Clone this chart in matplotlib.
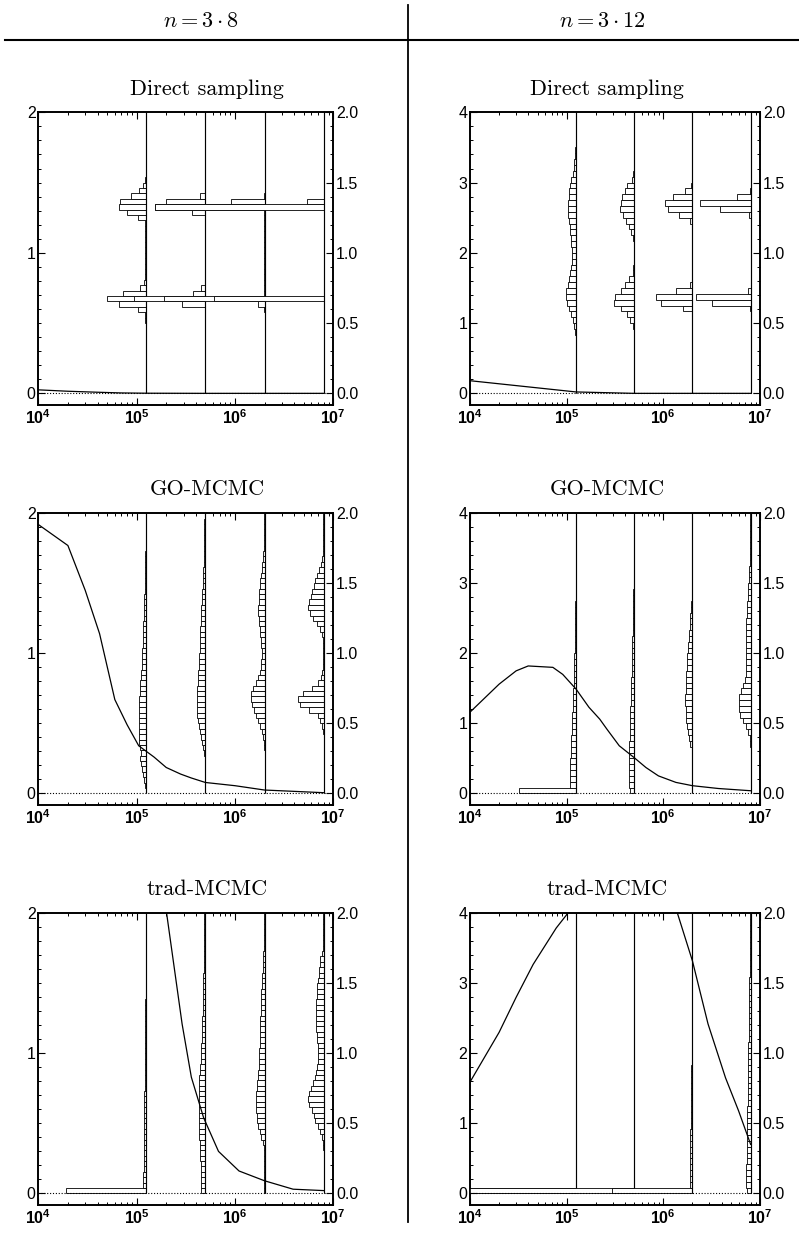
import matplotlib
matplotlib.use('Agg')
import matplotlib.pyplot as plt
import numpy as np
from matplotlib.lines import Line2D
from matplotlib.ticker import MultipleLocator, LogLocator, NullFormatter

plt.rcParams['font.family'] = ['Liberation Sans', 'DejaVu Sans']
plt.rcParams['mathtext.fontset'] = 'custom'
plt.rcParams['mathtext.rm'] = 'Liberation Sans'
plt.rcParams['mathtext.bf'] = 'Liberation Sans:bold'
plt.rcParams['mathtext.it'] = 'Liberation Sans:italic'

# number of samples at which each histogram is drawn (right edge of the histogram)
anchors = [1.25e5, 5e5, 2e6, 8e6]

# histogram bar depths (decades, measured leftwards from the anchor), one entry per bin over 0..2
# n = 3*8 : 52 bins, n = 3*12 : 48 bins

# ---- Direct sampling, n = 3*8
ds8_a = [0, 0, 0, 0, 0, 0, 0, 0, 0, 0,
         0, 0, 0.005, 0.01, 0.015, 0.086, 0.28, 0.40, 0.24, 0.066,
         0.02, 0.01, 0.01, 0.01, 0.01, 0.01, 0.01, 0.01, 0.01, 0.01,
         0.01, 0.015, 0.08, 0.19, 0.28, 0.27, 0.15, 0.076, 0.03, 0.015,
         0.005, 0, 0, 0, 0, 0, 0, 0, 0, 0,
         0, 0]
ds8_b = [0, 0, 0, 0, 0, 0, 0, 0, 0, 0,
         0, 0, 0, 0, 0.003, 0.007, 0.24, 0.73, 0.13, 0.04,
         0.005, 0.003, 0.003, 0.003, 0.003, 0.003, 0.003, 0.003, 0.003, 0.003,
         0.003, 0.003, 0.007, 0.135, 0.51, 0.40, 0.05, 0.005, 0, 0,
         0, 0, 0, 0, 0, 0, 0, 0, 0, 0,
         0, 0]
ds8_c = [0, 0, 0, 0, 0, 0, 0, 0, 0, 0,
         0, 0, 0, 0, 0, 0.005, 0.07, 1.02, 0.01, 0.003,
         0.003, 0.003, 0.003, 0.003, 0.003, 0.003, 0.003, 0.003, 0.003, 0.003,
         0.003, 0.003, 0.003, 0.01, 1.0, 0.34, 0.005, 0, 0, 0,
         0, 0, 0, 0, 0, 0, 0, 0, 0, 0,
         0, 0]
ds8_d = [0, 0, 0, 0, 0, 0, 0, 0, 0, 0,
         0, 0, 0, 0, 0, 0, 0, 1.12, 0, 0,
         0, 0, 0, 0, 0, 0, 0, 0, 0, 0,
         0, 0, 0, 0, 1.72, 0.17, 0, 0, 0, 0,
         0, 0, 0, 0, 0, 0, 0, 0, 0, 0,
         0, 0]
ds8_curve_x = [1e4, 2e4, 4e4, 7e4, 1.25e5, 5e5, 2e6, 8e6]
ds8_curve_y = [0.025, 0.015, 0.008, 0.003, 0.001, 0.0, 0.0, 0.0]

# ---- Direct sampling, n = 3*12
ds12_a = [0, 0, 0, 0, 0, 0, 0, 0, 0, 0.003,
          0.008, 0.02, 0.035, 0.055, 0.075, 0.095, 0.105, 0.1, 0.085, 0.07,
          0.058, 0.05, 0.045, 0.044, 0.045, 0.048, 0.053, 0.06, 0.067, 0.073,
          0.078, 0.08, 0.08, 0.077, 0.07, 0.06, 0.048, 0.036, 0.026, 0.018,
          0.012, 0.008, 0.005, 0.003, 0, 0, 0, 0]
ds12_b = [0, 0, 0, 0, 0, 0, 0, 0, 0, 0,
          0.006, 0.017, 0.045, 0.08, 0.138, 0.207, 0.197, 0.138, 0.094, 0.05,
          0.017, 0.008, 0.004, 0.004, 0.005, 0.007, 0.017, 0.034, 0.05, 0.086,
          0.12, 0.144, 0.137, 0.127, 0.1, 0.07, 0.024, 0.01, 0.005, 0,
          0, 0, 0, 0, 0, 0, 0, 0]
ds12_c = [0, 0, 0, 0, 0, 0, 0, 0, 0, 0,
          0, 0, 0, 0.005, 0.1, 0.33, 0.375, 0.175, 0.02, 0.003,
          0.002, 0.002, 0.002, 0.002, 0.002, 0.002, 0.002, 0.002, 0.005, 0.03,
          0.134, 0.254, 0.285, 0.2, 0.082, 0.01, 0.003, 0, 0, 0,
          0, 0, 0, 0, 0, 0, 0, 0]
ds12_d = [0, 0, 0, 0, 0, 0, 0, 0, 0, 0,
          0, 0, 0, 0, 0.01, 0.4, 0.57, 0.03, 0, 0,
          0, 0, 0, 0, 0, 0, 0, 0, 0, 0,
          0.02, 0.32, 0.52, 0.14, 0.01, 0, 0, 0, 0, 0,
          0, 0, 0, 0, 0, 0, 0, 0]
ds12_curve_x = [1e4, 1.25e5, 5e5, 2e6, 8e6]
ds12_curve_y = [0.18, 0.02, 0.0, 0.0, 0.0]

# ---- GO-MCMC, n = 3*8
go8_a = [0.003, 0.01, 0.02, 0.03, 0.04, 0.05, 0.065, 0.055, 0.065, 0.07,
         0.072, 0.075, 0.075, 0.076, 0.075, 0.073, 0.072, 0.07, 0.066, 0.062,
         0.058, 0.054, 0.05, 0.046, 0.043, 0.04, 0.038, 0.036, 0.034, 0.032,
         0.03, 0.028, 0.026, 0.024, 0.022, 0.02, 0.018, 0.016, 0.014, 0.012,
         0.011, 0.01, 0.009, 0.008, 0.007, 0.006, 0.005, 0.004, 0.003, 0.003,
         0.002, 0.002]
go8_b = [0, 0, 0, 0, 0, 0.003, 0.008, 0.017, 0.025, 0.035,
         0.048, 0.058, 0.068, 0.075, 0.08, 0.085, 0.085, 0.085, 0.082, 0.08,
         0.078, 0.074, 0.07, 0.066, 0.063, 0.06, 0.058, 0.056, 0.054, 0.052,
         0.05, 0.047, 0.044, 0.042, 0.04, 0.037, 0.034, 0.03, 0.027, 0.024,
         0.021, 0.019, 0.017, 0.015, 0.013, 0.012, 0.011, 0.01, 0.01, 0.009,
         0.009, 0.008]
go8_c = [0, 0, 0, 0, 0, 0, 0, 0, 0.003, 0.008,
         0.015, 0.03, 0.05, 0.07, 0.09, 0.11, 0.13, 0.14, 0.135, 0.115,
         0.09, 0.07, 0.05, 0.04, 0.033, 0.03, 0.03, 0.033, 0.038, 0.045,
         0.05, 0.055, 0.06, 0.062, 0.062, 0.06, 0.058, 0.055, 0.05, 0.045,
         0.037, 0.03, 0.022, 0.016, 0.012, 0.008, 0.006, 0.004, 0.003, 0.002,
         0.002, 0.002]
go8_d = [0, 0, 0, 0, 0, 0, 0, 0, 0, 0,
         0, 0.005, 0.02, 0.04, 0.06, 0.146, 0.24, 0.265, 0.207, 0.12,
         0.055, 0.03, 0.017, 0.01, 0.006, 0.004, 0.004, 0.006, 0.01, 0.02,
         0.037, 0.07, 0.11, 0.145, 0.156, 0.146, 0.13, 0.12, 0.1, 0.085,
         0.065, 0.045, 0.03, 0.018, 0.01, 0.006, 0.004, 0.003, 0.003, 0.003,
         0.003, 0.003]
go8_curve_x = [1e4, 2e4, 3e4, 4.2e4, 6e4, 8e4, 1.05e5, 1.5e5, 2e5, 2.8e5, 3.6e5, 5e5, 1e6, 2e6, 8e6]
go8_curve_y = [1.92, 1.77, 1.45, 1.14, 0.67, 0.49, 0.34, 0.26, 0.185, 0.138, 0.11, 0.078, 0.055, 0.024, 0.005]

# ---- GO-MCMC, n = 3*12
go12_a = [0.59, 0.065, 0.063, 0.062, 0.06, 0.058, 0.055, 0.052, 0.05, 0.047,
          0.044, 0.042, 0.04, 0.037, 0.034, 0.032, 0.03, 0.028, 0.026, 0.024,
          0.022, 0.02, 0.018, 0.017, 0.015, 0.014, 0.012, 0.011, 0.01, 0.009,
          0.008, 0.007, 0.006, 0.005, 0.005, 0.004, 0.004, 0.003, 0.003, 0.002,
          0.002, 0.002, 0.002, 0.002, 0.001, 0.001, 0, 0]
go12_b = [0.045, 0.05, 0.05, 0.05, 0.05, 0.05, 0.05, 0.05, 0.049, 0.048,
          0.046, 0.044, 0.042, 0.04, 0.04, 0.038, 0.036, 0.034, 0.032, 0.03,
          0.028, 0.026, 0.025, 0.024, 0.022, 0.02, 0.018, 0.017, 0.015, 0.014,
          0.012, 0.011, 0.01, 0.009, 0.008, 0.007, 0.006, 0.005, 0.004, 0.004,
          0.003, 0.002, 0.002, 0.002, 0.002, 0.002, 0.002, 0.002]
go12_c = [0, 0, 0, 0, 0, 0, 0.003, 0.008, 0.02, 0.035,
          0.045, 0.055, 0.062, 0.068, 0.07, 0.072, 0.072, 0.07, 0.068, 0.066,
          0.064, 0.06, 0.057, 0.055, 0.05, 0.045, 0.04, 0.035, 0.03, 0.025,
          0.02, 0.016, 0.012, 0.009, 0.007, 0.005, 0.004, 0.002, 0.002, 0.002,
          0.002, 0.002, 0.002, 0.002, 0.002, 0.002, 0.002, 0.002]
go12_d = [0, 0, 0, 0, 0, 0, 0, 0, 0.003, 0.01,
          0.025, 0.05, 0.08, 0.11, 0.12, 0.12, 0.12, 0.1, 0.08, 0.06,
          0.05, 0.045, 0.045, 0.046, 0.048, 0.048, 0.048, 0.047, 0.045, 0.043,
          0.04, 0.038, 0.035, 0.03, 0.027, 0.024, 0.02, 0.016, 0.012, 0.009,
          0.006, 0.004, 0.002, 0.002, 0.002, 0.002, 0.002, 0.002]
go12_curve_x = [1e4, 2e4, 3e4, 4e4, 7.2e4, 9.1e4, 1.25e5, 1.7e5, 2.2e5, 2.6e5, 3.5e5, 5e5,
                6.6e5, 8.9e5, 1.35e6, 2e6, 3.7e6, 8e6]
go12_curve_y = [1.16, 1.56, 1.75, 1.82, 1.80, 1.70, 1.49, 1.23, 1.06, 0.92, 0.68, 0.51,
                0.37, 0.25, 0.157, 0.11, 0.07, 0.038]

# ---- trad-MCMC, n = 3*8
tr8_a = [0.82, 0.03, 0.03, 0.028, 0.026, 0.025, 0.025, 0.024, 0.024, 0.023,
         0.022, 0.022, 0.021, 0.02, 0.02, 0.019, 0.018, 0.018, 0.017, 0.016,
         0.015, 0.015, 0.014, 0.013, 0.013, 0.012, 0.011, 0.011, 0.01, 0.01,
         0.009, 0.009, 0.008, 0.008, 0.007, 0.007, 0.006, 0.006, 0.005, 0.005,
         0.005, 0.004, 0.004, 0.004, 0.003, 0.003, 0.003, 0.003, 0.002, 0.002,
         0.002, 0.002]
tr8_b = [0.04, 0.04, 0.042, 0.045, 0.045, 0.048, 0.05, 0.052, 0.055, 0.058,
         0.06, 0.062, 0.065, 0.066, 0.068, 0.068, 0.068, 0.068, 0.067, 0.066,
         0.065, 0.06, 0.055, 0.05, 0.047, 0.045, 0.042, 0.04, 0.038, 0.036,
         0.034, 0.032, 0.03, 0.029, 0.028, 0.026, 0.025, 0.024, 0.022, 0.021,
         0.02, 0.018, 0.017, 0.016, 0.015, 0.014, 0.013, 0.012, 0.011, 0.01,
         0.01, 0.009]
tr8_c = [0.002, 0.002, 0.002, 0.002, 0.002, 0.002, 0.002, 0.005, 0.01, 0.02,
         0.035, 0.05, 0.065, 0.075, 0.08, 0.085, 0.088, 0.088, 0.085, 0.08,
         0.075, 0.07, 0.065, 0.06, 0.056, 0.054, 0.052, 0.05, 0.048, 0.046,
         0.045, 0.044, 0.042, 0.04, 0.038, 0.036, 0.034, 0.032, 0.029, 0.027,
         0.024, 0.021, 0.018, 0.015, 0.012, 0.01, 0.008, 0.006, 0.005, 0.004,
         0.003, 0.003]
tr8_d = [0.002, 0.002, 0.002, 0.002, 0.002, 0.002, 0.002, 0.002, 0.005, 0.01,
         0.02, 0.037, 0.06, 0.088, 0.1, 0.12, 0.15, 0.156, 0.15, 0.13,
         0.11, 0.09, 0.075, 0.065, 0.06, 0.055, 0.056, 0.06, 0.066, 0.072,
         0.076, 0.078, 0.078, 0.078, 0.076, 0.074, 0.072, 0.07, 0.065, 0.058,
         0.05, 0.044, 0.04, 0.035, 0.02, 0.012, 0.008, 0.006, 0.004, 0.003,
         0.003, 0.003]
tr8_curve_x = [2.0e5, 2.9e5, 3.6e5, 4.8e5, 6.8e5, 1.1e6, 2e6, 3.9e6, 8e6]
tr8_curve_y = [2.02, 1.21, 0.83, 0.54, 0.30, 0.16, 0.09, 0.03, 0.02]

# ---- trad-MCMC, n = 3*12
tr12_a = [1.5, 0, 0, 0, 0, 0, 0, 0, 0, 0,
          0, 0, 0, 0, 0, 0, 0, 0, 0, 0,
          0, 0, 0, 0, 0, 0, 0, 0, 0, 0,
          0, 0, 0, 0, 0, 0, 0, 0, 0, 0,
          0, 0, 0, 0, 0, 0, 0, 0]
tr12_b = [2.0, 0.003, 0.003, 0.003, 0.003, 0.003, 0.003, 0.003, 0.003, 0.003,
          0.003, 0.003, 0.003, 0.003, 0.003, 0.003, 0.003, 0.003, 0.003, 0.003,
          0.003, 0.003, 0.003, 0.003, 0.003, 0.003, 0.003, 0.003, 0.003, 0.003,
          0.003, 0.003, 0.003, 0.003, 0.003, 0.003, 0.003, 0.003, 0.003, 0.003,
          0.003, 0.003, 0.003, 0.003, 0.003, 0.003, 0.003, 0.003]
tr12_c = [0.83, 0.03, 0.028, 0.027, 0.026, 0.025, 0.024, 0.023, 0.022, 0.021,
          0.02, 0.019, 0.018, 0.017, 0.016, 0.015, 0.014, 0.013, 0.012, 0.011,
          0.01, 0.01, 0.009, 0.009, 0.008, 0.008, 0.007, 0.007, 0.006, 0.006,
          0.005, 0.005, 0.005, 0.004, 0.004, 0.004, 0.003, 0.003, 0.003, 0.003,
          0.002, 0.002, 0.002, 0.002, 0.002, 0.002, 0.002, 0.002]
tr12_d = [0.04, 0.045, 0.045, 0.044, 0.043, 0.042, 0.041, 0.04, 0.039, 0.038,
          0.037, 0.036, 0.035, 0.034, 0.033, 0.032, 0.031, 0.03, 0.029, 0.028,
          0.027, 0.026, 0.025, 0.024, 0.024, 0.023, 0.022, 0.021, 0.02, 0.019,
          0.018, 0.017, 0.016, 0.015, 0.014, 0.013, 0.012, 0.011, 0.01, 0.009,
          0.008, 0.007, 0.006, 0.006, 0.005, 0.005, 0.004, 0.004]
tr12_curve_x = [1e4, 2e4, 3e4, 4.5e4, 7.8e4, 1e5, 1.25e5, 5e5, 1.4e6, 2e6, 2.9e6, 4.4e6, 6e6, 8e6]
tr12_curve_y = [1.59, 2.30, 2.80, 3.27, 3.79, 3.98, 4.4, 6.0, 4.0, 3.32, 2.42, 1.65, 1.18, 0.70]

titles = ['Direct sampling', 'GO-MCMC', 'trad-MCMC']
headers = [r'$n=3\cdot8$', r'$n=3\cdot12$']
xtick_vals = [1e4, 1e5, 1e6, 1e7]
xtick_labels = [r'$\mathbf{10^{4}}$', r'$\mathbf{10^{5}}$', r'$\mathbf{10^{6}}$', r'$\mathbf{10^{7}}$']

W, H = 799, 1235
fig = plt.figure(figsize=(W / 100, H / 100), dpi=100)
TICK_FS = 11.5


def px_axes(x0, y0, x1, y1):
    return [x0 / W, 1 - y1 / H, (x1 - x0) / W, (y1 - y0) / H]


def panel(rect, hists, cx, cy, ytop):
    ax = fig.add_axes(rect)
    ax.set_xscale('log')
    ax2 = ax.twinx()
    ax.set_zorder(2)
    ax.patch.set_visible(False)
    lo = -0.085
    for i, (a, d) in enumerate(zip(anchors, hists)):
        d = np.array(d, dtype=float)
        edges = np.linspace(0, 2, len(d) + 1)
        left = a / 10 ** d
        ax2.barh(edges[:-1], a - left, left=left, height=edges[1] - edges[0], align='edge',
                 color='white', edgecolor='black', linewidth=0.6, zorder=1 + 2 * i)
        # solid base line of the histogram
        ax2.plot([a, a], [0, 2], color='black', lw=0.85, zorder=2 + 2 * i, solid_capstyle='butt')
    ax.plot(cx, cy, color='black', lw=0.9)
    ax.axhline(0, color='black', lw=0.8, ls=(0, (1, 1.6)))
    ax.set_xlim(1e4, 1e7)
    ax.set_ylim(lo * ytop / 2, ytop)
    ax2.set_ylim(lo, 2.0)

    ax.set_xticks(xtick_vals)
    ax.set_xticklabels(xtick_labels, fontsize=TICK_FS)
    ax.xaxis.set_minor_locator(LogLocator(base=10, subs=np.arange(2, 10)))
    ax.xaxis.set_minor_formatter(NullFormatter())
    ax.set_yticks(np.arange(0, ytop + 1))
    ax.set_yticklabels([str(v) for v in range(0, ytop + 1)], fontsize=TICK_FS)
    ax.yaxis.set_minor_locator(MultipleLocator(ytop / 20))
    ax2.set_yticks([0, 0.5, 1.0, 1.5, 2.0])
    ax2.set_yticklabels(['0.0', '0.5', '1.0', '1.5', '2.0'], fontsize=TICK_FS)
    ax2.yaxis.set_minor_locator(MultipleLocator(0.1))

    ax.tick_params(axis='x', which='both', direction='in', top=True, bottom=True, pad=2)
    ax.tick_params(axis='y', which='both', direction='in', left=True, right=False, pad=2)
    ax2.tick_params(axis='y', which='both', direction='in', right=True, left=False, pad=2)
    for a_ in (ax, ax2):
        a_.tick_params(which='major', length=5, width=0.8)
        a_.tick_params(which='minor', length=2.5, width=0.7)
        for s in a_.spines.values():
            s.set_linewidth(1.2)
    return ax


col_x = [(38.3, 333.3), (470, 760)]
row_y = [(112.3, 405.3), (513.3, 805.3), (913.3, 1205.3)]
all_hists = [
    [(ds8_a, ds8_b, ds8_c, ds8_d), (ds12_a, ds12_b, ds12_c, ds12_d)],
    [(go8_a, go8_b, go8_c, go8_d), (go12_a, go12_b, go12_c, go12_d)],
    [(tr8_a, tr8_b, tr8_c, tr8_d), (tr12_a, tr12_b, tr12_c, tr12_d)],
]
all_curves = [
    [(ds8_curve_x, ds8_curve_y), (ds12_curve_x, ds12_curve_y)],
    [(go8_curve_x, go8_curve_y), (go12_curve_x, go12_curve_y)],
    [(tr8_curve_x, tr8_curve_y), (tr12_curve_x, tr12_curve_y)],
]
ytops = [2, 4]

for r in range(3):
    for c in range(2):
        x0, x1 = col_x[c]
        y0, y1 = row_y[r]
        cx, cy = all_curves[r][c]
        panel(px_axes(x0, y0, x1, y1), all_hists[r][c], cx, cy, ytops[c])

# titles above each panel (Computer Modern like the original)
title_cx = [207, 607]
title_base = [95, 495, 895]
for r in range(3):
    for c in range(2):
        fig.text(title_cx[c] / W, 1 - title_base[r] / H, titles[r],
                 ha='center', va='baseline', fontsize=16, family='cmr10')

header_cx = [201, 602]
for c in range(2):
    fig.text(header_cx[c] / W, 1 - 27 / H, headers[c], ha='center', va='baseline',
             fontsize=16, math_fontfamily='cm')

# table rules
fig.add_artist(Line2D([5 / W, 1.0], [1 - 39.5 / H, 1 - 39.5 / H], color='black', lw=1.5))
fig.add_artist(Line2D([408 / W, 408 / W], [1 - 5 / H, 1 - 1222 / H], color='black', lw=1.3))

fig.savefig('out.png', dpi=100)
